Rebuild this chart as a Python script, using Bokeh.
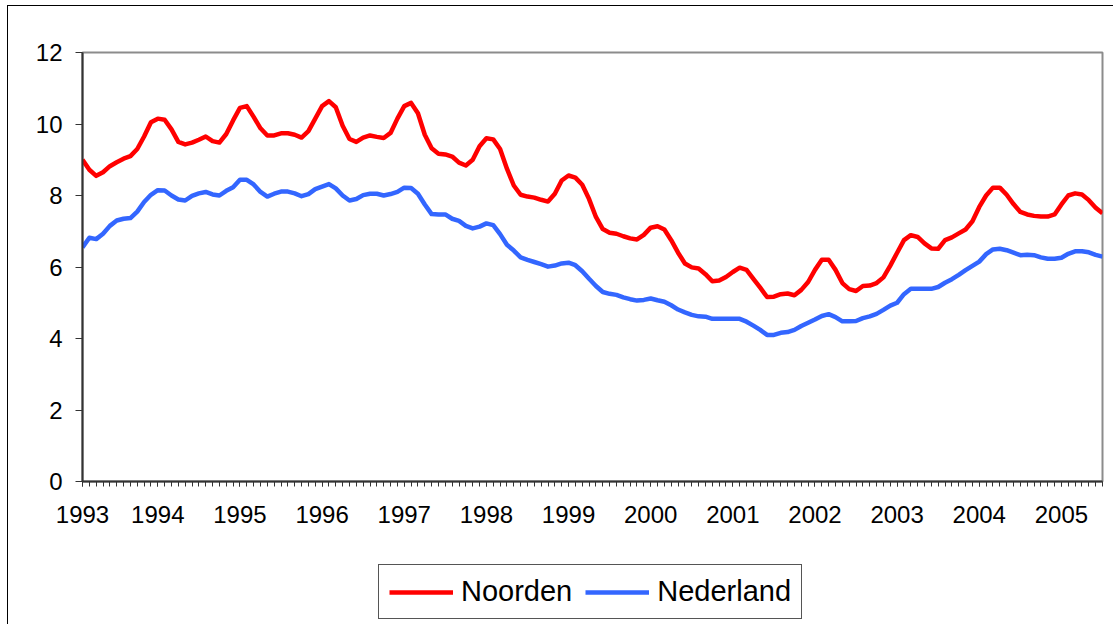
from bokeh.plotting import figure
from bokeh.layouts import column
from bokeh.models import Range1d, FixedTicker, Legend, LegendItem
from bokeh.embed import file_html
from bokeh.resources import INLINE

# Monthly values, 1993 - mid 2005
noorden = [
    9.00, 8.72, 8.55, 8.65, 8.82, 8.93, 9.03, 9.10, 9.30, 9.65,
    10.05, 10.15, 10.12, 9.85, 9.50, 9.43, 9.48, 9.56, 9.65, 9.52,
    9.48, 9.72, 10.10, 10.45, 10.50, 10.20, 9.88, 9.68, 9.68, 9.74,
    9.74, 9.70, 9.62, 9.80, 10.15, 10.50, 10.64, 10.47, 9.95, 9.58,
    9.50, 9.62, 9.68, 9.64, 9.61, 9.75, 10.15, 10.50, 10.59, 10.30,
    9.70, 9.32, 9.17, 9.15, 9.09, 8.92, 8.84, 9.00, 9.38, 9.60,
    9.57, 9.30, 8.75, 8.28, 8.02, 7.97, 7.94, 7.88, 7.83, 8.05,
    8.42, 8.56, 8.50, 8.30, 7.90, 7.40, 7.06, 6.96, 6.93, 6.86,
    6.80, 6.77, 6.90, 7.10, 7.14, 7.05, 6.75, 6.40, 6.10, 5.99,
    5.96, 5.80, 5.60, 5.62, 5.72, 5.86, 5.98, 5.92, 5.67, 5.42,
    5.16, 5.17, 5.24, 5.26, 5.21, 5.36, 5.58, 5.92, 6.20, 6.20,
    5.92, 5.55, 5.38, 5.33, 5.47, 5.48, 5.55, 5.71, 6.04, 6.40,
    6.75, 6.89, 6.84, 6.66, 6.52, 6.51, 6.75, 6.83, 6.94, 7.05,
    7.28, 7.68, 8.00, 8.22, 8.22, 8.02, 7.76, 7.54, 7.47, 7.43,
    7.41, 7.41, 7.47, 7.75, 8.00, 8.06, 8.03, 7.87, 7.66, 7.50,
]
nederland = [
    6.55, 6.82, 6.78, 6.93, 7.15, 7.30, 7.35, 7.37, 7.55, 7.82,
    8.02, 8.15, 8.14, 8.00, 7.89, 7.86, 7.99, 8.06, 8.10, 8.03,
    8.00, 8.13, 8.23, 8.44, 8.44, 8.31, 8.10, 7.97, 8.05, 8.11,
    8.11, 8.06, 7.98, 8.04, 8.18, 8.25, 8.32, 8.20, 8.00, 7.86,
    7.90, 8.01, 8.05, 8.05, 8.00, 8.04, 8.10, 8.22, 8.21, 8.05,
    7.75, 7.48, 7.47, 7.47, 7.35, 7.29, 7.15, 7.08, 7.13, 7.22,
    7.17, 6.92, 6.62, 6.46, 6.27, 6.20, 6.14, 6.08, 6.01, 6.04,
    6.10, 6.12, 6.05, 5.88, 5.67, 5.47, 5.30, 5.25, 5.22, 5.15,
    5.10, 5.06, 5.08, 5.12, 5.07, 5.03, 4.93, 4.81, 4.73, 4.66,
    4.62, 4.61, 4.55, 4.55, 4.55, 4.55, 4.55, 4.47, 4.36, 4.24,
    4.10, 4.10, 4.16, 4.18, 4.24, 4.35, 4.44, 4.53, 4.63, 4.68,
    4.60, 4.48, 4.48, 4.49, 4.57, 4.62, 4.69, 4.80, 4.92, 5.00,
    5.24, 5.39, 5.39, 5.39, 5.39, 5.44, 5.56, 5.66, 5.78, 5.91,
    6.03, 6.15, 6.36, 6.49, 6.51, 6.47, 6.40, 6.33, 6.34, 6.33,
    6.27, 6.23, 6.23, 6.26, 6.37, 6.44, 6.44, 6.41, 6.34, 6.29,
]
months = list(range(len(noorden)))
year_tick_pos = [0, 11, 23, 35, 47, 59, 71, 83, 95, 107, 119, 131, 143]
year_labels = ["1993", "1994", "1995", "1996", "1997", "1998", "1999",
               "2000", "2001", "2002", "2003", "2004", "2005"]
y_ticks = [0, 2, 4, 6, 8, 10, 12]
series_names = ["Noorden", "Nederland"]
series_colors = ["#FF0000", "#3366FF"]

FONT = "Liberation Sans"

# ---- main chart ----
p = figure(width=1105, height=530, output_backend="svg", toolbar_location=None,
           x_range=Range1d(months[0], months[-1]), y_range=Range1d(y_ticks[0], y_ticks[-1]),
           min_border_left=74, min_border_right=11, min_border_top=46, min_border_bottom=55)
p.background_fill_color = "white"
p.border_fill_color = "white"
p.outline_line_color = "#8c8c8c"
p.outline_line_width = 2
p.xgrid.visible = False
p.ygrid.visible = False

p.line(months, noorden, line_color=series_colors[0], line_width=4.5, line_join="round")
p.line(months, nederland, line_color=series_colors[1], line_width=4.5, line_join="round")

p.xaxis.ticker = FixedTicker(ticks=year_tick_pos, minor_ticks=months)
p.xaxis.major_label_overrides = {t: l for t, l in zip(year_tick_pos, year_labels)}
p.yaxis.ticker = FixedTicker(ticks=y_ticks, minor_ticks=[])
for ax in (p.xaxis, p.yaxis):
    ax.axis_line_color = "#333333"
    ax.axis_line_width = 2
    ax.major_tick_line_color = "#333333"
    ax.minor_tick_line_color = "#333333"
    ax.major_tick_in = 0
    ax.minor_tick_in = 0
    ax.major_label_text_font = FONT
    ax.major_label_text_font_size = "24px"
    ax.major_label_text_color = "black"
p.xaxis.major_tick_out = 5
p.xaxis.minor_tick_out = 5
p.xaxis.major_label_standoff = 19
p.yaxis.major_tick_out = 7
p.yaxis.minor_tick_out = 0
p.yaxis.major_label_standoff = 13

# ---- legend strip below the chart (its lines fall outside this strip's ranges) ----
lg = figure(width=1105, height=88, output_backend="svg", toolbar_location=None,
            x_range=Range1d(0, 1), y_range=Range1d(0, 1),
            x_axis_location=None, y_axis_location=None,
            min_border_left=0, min_border_right=0, min_border_top=0, min_border_bottom=0)
lg.outline_line_color = None
lg.grid.visible = False
lg.border_fill_color = "white"
k1 = lg.line(months, noorden, line_color=series_colors[0], line_width=4.5)
k2 = lg.line(months, nederland, line_color=series_colors[1], line_width=4.5)
legend = Legend(items=[LegendItem(label=series_names[0], renderers=[k1]),
                       LegendItem(label=series_names[1], renderers=[k2])],
                orientation="horizontal", location=(296, 5),
                glyph_width=64, glyph_height=28, label_standoff=8, spacing=13,
                padding=10, margin=0,
                label_text_font=FONT, label_text_font_size="29px",
                label_text_color="black",
                border_line_color="#555555", border_line_width=1, border_line_alpha=1.0,
                background_fill_color="white", background_fill_alpha=1.0)
lg.add_layout(legend, "center")

layout = column(p, lg, spacing=0)
layout.styles = {"margin-left": "7px", "margin-top": "5px",
                 "border-left": "1px solid #000000", "border-top": "1px solid #000000"}

open("out.html", "w").write(file_html(layout, INLINE))
